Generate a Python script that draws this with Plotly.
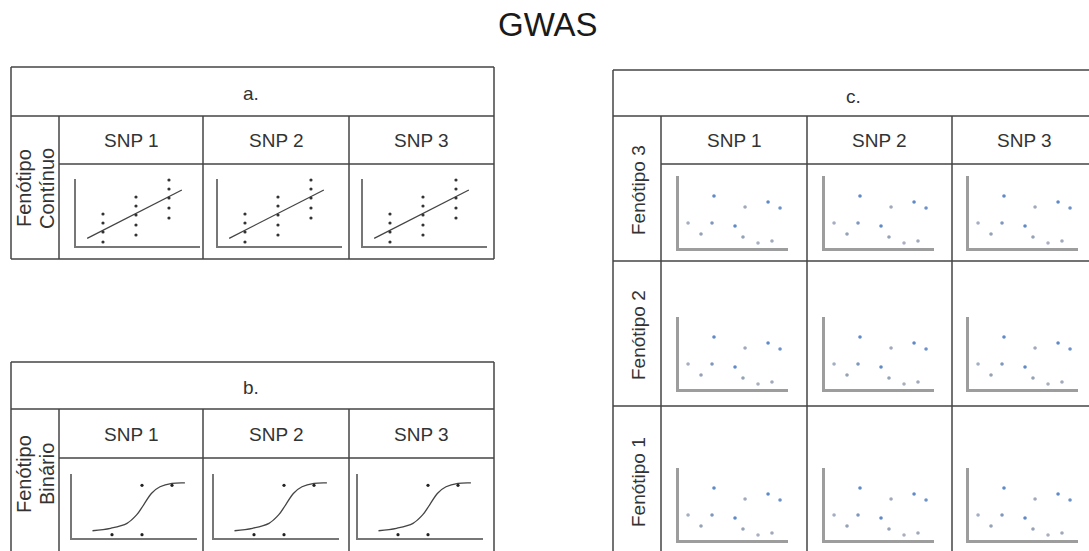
import plotly.graph_objects as go

# ---------------- data ----------------
snp_labels = ["SNP 1", "SNP 2", "SNP 3"]
c_row_labels = ["Fenótipo 3", "Fenótipo 2", "Fenótipo 1"]
panel_labels = ["a.", "b.", "c."]

# panel a: continuous phenotype vs genotype (0/1/2)
a_genotype = [0, 0, 0, 0, 0, 1, 1, 1, 1, 1, 2, 2, 2, 2, 2]
a_pheno = [3.2, 2.3, 1.4, 0.4, -0.6, 4.9, 4.0, 3.1, 2.1, 1.1, 6.6, 5.7, 4.8, 3.8, 2.8]
a_trend_x = [-0.48, 2.39]
a_trend_y = [0.77, 5.6]

# panel b: binary phenotype vs genotype, logistic curve
b_genotype = [0, 1, 1, 2]
b_pheno = [0, 0, 1, 1]
b_curve_x = [-0.65, -0.05, 0.5, 0.82, 1.05, 1.32, 1.6, 2.0, 2.43]
b_curve_y = [0.08, 0.13, 0.23, 0.40, 0.60, 0.84, 0.97, 1.04, 1.05]

# panel c: scatter of generic points
c_x = [0.83, 3.21, 3.03, 2.02, 5.14, 6.06, 5.87, 7.25, 8.17, 9.27, 8.53]
c_y = [3.47, 7.22, 3.47, 1.94, 3.06, 5.69, 1.53, 0.69, 6.39, 5.56, 0.97]
c_colors = ["#a3aec2", "#5f8ac8", "#7f97bc", "#95a2b6", "#5f8ac8", "#a0a9ba",
            "#95a2b6", "#a8b0bf", "#5f8ac8", "#6d92ca", "#a0a9ba"]

# ---------------- layout helpers ----------------
W, H = 1089, 551
FONT = "Liberation Sans, Arial, sans-serif"
TXT = "#333333"
LINE = "#444444"


def px(x):
    return x / W


def py(y):
    return 1 - y / H


fig = go.Figure()
layout = dict(
    width=W, height=H, autosize=False,
    margin=dict(l=0, r=0, t=0, b=0),
    paper_bgcolor="white", plot_bgcolor="rgba(0,0,0,0)",
    showlegend=False,
    font=dict(family=FONT, color=TXT),
)

ax_count = [0]


def add_axes(x0, x1, y0, y1, xr, yr, lw, lc):
    ax_count[0] += 1
    n = ax_count[0]
    sfx = "" if n == 1 else str(n)
    common = dict(showgrid=False, zeroline=False, showticklabels=False,
                  ticks="", showline=True, linewidth=lw, linecolor=lc,
                  fixedrange=True, mirror=False)
    layout["xaxis" + sfx] = dict(domain=[px(x0), px(x1)], range=xr,
                                 anchor="y" + sfx, **common)
    layout["yaxis" + sfx] = dict(domain=[py(y1), py(y0)], range=yr,
                                 anchor="x" + sfx, **common)
    return "x" + sfx, "y" + sfx


# panel a mini plots
a_cols = [(76, 200), (218, 342), (363, 487)]
for (x0, x1) in a_cols:
    xa, ya = add_axes(x0, x1, 179, 246, [-0.818, 2.94], [0, 6.7], 1.5, "#777777")
    fig.add_trace(go.Scatter(x=a_trend_x, y=a_trend_y, mode="lines",
                             line=dict(color="#444444", width=1.3),
                             xaxis=xa, yaxis=ya, hoverinfo="skip"))
    fig.add_trace(go.Scatter(x=a_genotype, y=a_pheno, mode="markers",
                             marker=dict(color="#333333", size=3.2),
                             cliponaxis=False, xaxis=xa, yaxis=ya))

# panel b mini plots
b_cols = [(72, 197), (214, 339), (358, 483)]
for (x0, x1) in b_cols:
    xa, ya = add_axes(x0, x1, 474, 538, [-1.333, 2.833], [-0.067, 1.229], 1.5, "#777777")
    fig.add_trace(go.Scatter(x=b_curve_x, y=b_curve_y, mode="lines",
                             line=dict(color="#444444", width=1.3, shape="spline"),
                             xaxis=xa, yaxis=ya, hoverinfo="skip"))
    fig.add_trace(go.Scatter(x=b_genotype, y=b_pheno, mode="markers",
                             marker=dict(color="#222222", size=3.2),
                             cliponaxis=False, xaxis=xa, yaxis=ya))

# panel c mini plots
c_cols = [(679, 788), (825, 934), (969, 1078)]
c_rows = [(176, 248), (317, 389), (468, 540)]
for (y0, y1) in c_rows:
    for (x0, x1) in c_cols:
        xa, ya = add_axes(x0, x1, y0, y1, [0, 10], [0, 10], 3, "#9d9d9d")
        fig.add_trace(go.Scatter(x=c_x, y=c_y, mode="markers",
                                 marker=dict(color=c_colors, size=3.6),
                                 cliponaxis=False, xaxis=xa, yaxis=ya))

# ---------------- table lines ----------------
shapes = []


def hline(y, x0, x1, w=1.5):
    shapes.append(dict(type="line", xref="paper", yref="paper",
                       x0=px(x0), x1=px(x1), y0=py(y), y1=py(y),
                       line=dict(color=LINE, width=w)))


def vline(x, y0, y1, w=1.5):
    shapes.append(dict(type="line", xref="paper", yref="paper",
                       x0=px(x), x1=px(x), y0=py(y0), y1=py(y1),
                       line=dict(color=LINE, width=w)))


# a
hline(67, 11, 494); hline(259, 11, 494); vline(11, 67, 259); vline(494, 67, 259)
hline(116, 11, 494); hline(164, 59, 494)
for x in (59, 203, 349):
    vline(x, 116, 259)
# b
hline(362, 11, 494); vline(11, 362, 560); vline(494, 362, 560)
hline(409, 11, 494); hline(458, 59, 494)
for x in (59, 203, 349):
    vline(x, 409, 560)
# c
R = 1094
hline(70, 613, R); vline(613, 70, 560)
hline(116, 613, R); hline(164, 661, R)
hline(261, 613, R); hline(406, 613, R)
for x in (661, 807, 952):
    vline(x, 116, 560)
layout["shapes"] = shapes

# ---------------- texts ----------------
ann = []


def text(t, x, y, size=19, angle=0, color=TXT):
    ann.append(dict(text=t, x=px(x), y=py(y), xref="paper", yref="paper",
                    showarrow=False, xanchor="center", yanchor="middle",
                    textangle=angle, font=dict(size=size, color=color, family=FONT)))


text("GWAS", 548, 24, size=33, color="#1a1a1a")
text(panel_labels[0], 251, 93)
text(panel_labels[1], 251, 387)
text(panel_labels[2], 853, 96)

a_snp_x = [131, 276, 421.5]
for s, x in zip(snp_labels, a_snp_x):
    text(s, x, 140)
    text(s, x, 434)
c_snp_x = [734, 879.5, 1024]
for s, x in zip(snp_labels, c_snp_x):
    text(s, x, 140)

text("Fenótipo", 24, 188, size=20, angle=-90)
text("Contínuo", 47, 188, size=20, angle=-90)
text("Fenótipo", 24, 474, size=20, angle=-90)
text("Binário", 47, 474, size=20, angle=-90)

for lab, yc in zip(c_row_labels, [190, 335, 482]):
    text(lab, 638, yc, angle=-90)

layout["annotations"] = ann
fig.update_layout(**layout)
fig.write_html("out.html")
